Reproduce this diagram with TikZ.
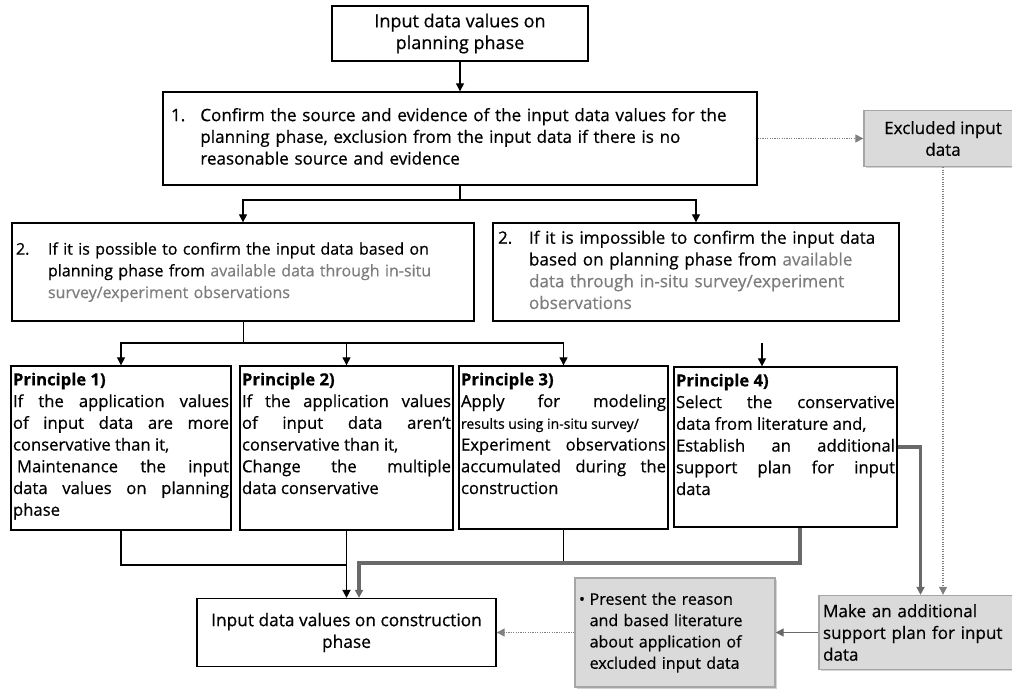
\documentclass[tikz,border=0pt]{standalone}
\usepackage{fontspec}
\setmainfont{Open Sans}[FakeBold=0.6]
\usetikzlibrary{arrows.meta}
\usetikzlibrary{shadows}
\usetikzlibrary{positioning}

\definecolor{boxgray}{RGB}{218,218,218}
\definecolor{linegray}{RGB}{105,105,105}
\definecolor{txtgray}{RGB}{125,125,125}
\newcommand{\gtxt}[1]{\textcolor{txtgray}{#1}}
\newcommand{\fullline}[1]{\makebox[\linewidth][s]{#1}\\}

\tikzset{
  box/.style={draw=black, line width=1pt, rectangle, inner sep=3pt, font=\fontsize{12.8}{16.3}\selectfont},
  greybox/.style={box, draw=gray!70, fill=boxgray, drop shadow={shadow xshift=1.3pt, shadow yshift=-1.3pt, opacity=0.35, fill=gray}},
  principle/.style={box, inner xsep=1.5pt, inner ysep=5pt, font=\fontsize{12.5}{16.3}\selectfont},
  arr/.style={-{Triangle[length=6pt,width=6pt]}, line width=0.8pt},
  grayarr/.style={-{Triangle[length=6pt,width=6pt]}, draw=linegray, line width=2.4pt},
  dotarr/.style={-{Triangle[length=6pt,width=6pt]}, densely dotted, draw=gray, line width=0.8pt}
}

\begin{document}
\begin{tikzpicture}[x=0.75pt,y=-0.75pt]
\useasboundingbox (0,0) rectangle (1012,688);

% top row
\node[box, align=center, minimum width=192pt, minimum height=41.25pt, font=\fontsize{13.5}{16.3}\selectfont] (plan) at (460,33.5) {Input data values on\\planning phase};
\node[box, align=left, text width=433.5pt, inner xsep=6pt, minimum height=69.75pt] (confirm) at (460,138.5)
  {\begin{tabular}{@{}p{22pt}@{}l@{}}
   1. & Confirm the source and evidence of the input data values for the\\
      & planning phase, exclusion from the input data if there is no\\
      & reasonable source and evidence
   \end{tabular}};
\node[greybox, align=center, minimum width=118.5pt, minimum height=42pt] (excl) at (943,138.5) {Excluded input\\data};

% step 2
\node[box, align=left, text width=340.5pt, minimum height=73.5pt, font=\fontsize{12}{16.3}\selectfont] (possible) at (243,272)
  {\begin{tabular}{@{}p{24pt}@{}l@{}}
   2. & If it is possible to confirm the input data based on\\
      & planning phase from \gtxt{available data through in-situ}\\
      & \gtxt{survey/experiment observations}
   \end{tabular}};
\node[box, align=left, text width=297pt, inner xsep=3.75pt, minimum height=73.5pt] (impossible) at (696,272)
  {\begin{tabular}{@{}p{23.25pt}@{}l@{}}
   2. & If it is impossible to confirm the input data\\
      & based on planning phase from \gtxt{available}\\
      & \gtxt{data through in-situ survey/experiment}\\
      & \gtxt{observations}
   \end{tabular}};

% principles
\node[principle] (p1) at (121,448) {\parbox[t][113pt][t]{162pt}{%
  \textbf{Principle 1)}\\
  \fullline{If the application values}
  \fullline{of input data are more}
  conservative than it,\\
  \fullline{\hspace*{3pt}Maintenance the input}
  \fullline{data values on planning}
  phase}};
\node[principle] (p2) at (346.5,448) {\parbox[t][113pt][t]{156.75pt}{%
  \textbf{Principle 2)}\\
  \fullline{If the application values}
  \fullline{of input data aren't}
  conservative than it,\\
  \fullline{Change the multiple}
  data conservative}};
\node[principle] (p3) at (563.5,447.5) {\parbox[t][112.25pt][t]{153.75pt}{%
  \textbf{Principle 3)}\\
  \fullline{Apply for modeling}
  {\fontsize{10.5}{16.3}\selectfont results using in-situ survey/}\\
  \fullline{Experiment observations}
  \fullline{accumulated during the}
  construction}};
\node[principle] (p4) at (785.5,447) {\parbox[t][110pt][t]{164.25pt}{%
  \textbf{Principle 4)}\\
  \fullline{Select the conservative}
  data from literature and,\\
  \fullline{Establish an additional}
  \fullline{support plan for input}
  data}};

% bottom row
\node[box, align=center, minimum width=224.25pt, minimum height=51pt, font=\fontsize{13}{16.3}\selectfont] (constr) at (346.5,632.5) {Input data values on construction\\phase};
\node[greybox, align=left, text width=144pt, minimum height=81.75pt, font=\fontsize{12}{16}\selectfont] (present) at (675,632.5)
  {\begin{tabular}{@{}p{8pt}@{}l@{}}
   \textbullet & Present the reason\\
               & and based literature\\
               & about application of\\
               & excluded input data
   \end{tabular}};
\node[greybox, align=left, text width=146.25pt, minimum height=55.5pt] (make) at (920.5,632.5) {Make an additional\\support plan for input\\data};

% connectors
\coordinate (split1) at (460,200);
\coordinate (split2) at (243,343);
\coordinate (p4in) at (762,343);
\coordinate (merge) at (346.5,565);
\coordinate (bend4) at (800,563);
\coordinate (bend5) at (359,563);

\draw[arr] (plan.south) -- (plan.south |- confirm.north);
\draw[arr] (confirm.south) -- (split1) -| (possible);
\draw[arr] (split1) -| (impossible);
\draw[dotarr] (confirm) -- (excl);
\draw (possible) -- (split2);
\draw[arr] (split2) -| (p1);
\draw[arr] (split2) -| (p2);
\draw[arr] (split2) -| (p3);
\draw[arr] (p4in) -- (p4in |- p4.north);
\draw[line width=0.8pt] (p1) |- (merge);
\draw[line width=0.8pt] (p3) -- (p3 |- bend4);
\draw[arr, line width=1.3pt] (p2) -- (constr);
\draw[grayarr] (bend4 |- p4.south) -- (bend4) -- (bend5) -- (bend5 |- constr.north);
\draw[grayarr] (p4) -| (make);
\draw[dotarr] (excl) -- (excl |- make.north);
\draw[arr, draw=linegray] (make) -- (present);
\draw[dotarr] (present) -- (constr);

\end{tikzpicture}
\end{document}
